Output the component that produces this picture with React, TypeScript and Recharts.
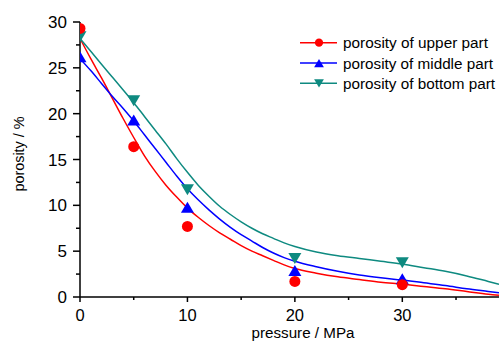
import React from 'react';
import { ComposedChart, Line, Scatter, XAxis, YAxis } from 'recharts';

// fitted curves
const curveX = [0, 1, 2, 3, 4, 5, 6, 7, 8, 9, 10, 11, 12, 13, 14, 15, 16, 17, 18, 19, 20, 22, 24, 26, 28, 30, 32, 34, 36, 38, 39];
const upperCurve = [28.2, 26.0, 23.9, 21.7, 19.5, 17.4, 15.4, 13.7, 12.2, 10.9, 9.7, 8.7, 7.8, 7.0, 6.3, 5.6, 5.0, 4.5, 4.0, 3.5, 3.1, 2.6, 2.2, 1.9, 1.6, 1.4, 1.15, 0.9, 0.6, 0.3, 0.2];
const middleCurve = [26.0, 24.7, 23.3, 21.9, 20.6, 19.2, 17.7, 16.2, 14.7, 13.2, 11.8, 10.6, 9.5, 8.5, 7.6, 6.8, 6.1, 5.4, 4.8, 4.3, 3.9, 3.3, 2.8, 2.4, 2.1, 1.85, 1.55, 1.25, 0.9, 0.6, 0.45];
const bottomCurve = [28.2, 26.8, 25.4, 24.0, 22.6, 21.2, 19.7, 18.2, 16.7, 15.1, 13.6, 12.2, 11.0, 9.9, 9.0, 8.2, 7.5, 6.9, 6.4, 5.9, 5.5, 4.9, 4.5, 4.2, 3.9, 3.6, 3.2, 2.8, 2.3, 1.7, 1.4];

// measured points
const pressures = [0, 5, 10, 20, 30];
const upperPoints = [29.3, 16.4, 7.7, 1.7, 1.35];
const middlePoints = [26.2, 19.3, 9.8, 2.9, 2.0];
const bottomPoints = [28.4, 21.4, 11.7, 4.2, 3.75];

const xTicks = [0, 5, 10, 15, 20, 25, 30, 35];
const xLabeled = [0, 10, 20, 30];
const yTicks = [0, 2.5, 5, 7.5, 10, 12.5, 15, 17.5, 20, 22.5, 25, 27.5, 30];
const yLabeled = [0, 5, 10, 15, 20, 25, 30];

const seriesNames = ['porosity of upper part', 'porosity of middle part', 'porosity of bottom part'];
const legendWidths = [145, 150, 152];
const colors = ['#ff0000', '#0000ff', '#0e8a80'];

const FONT = '"Liberation Sans", Arial, sans-serif';

const mk = (xs: number[], ys: number[]) => xs.map((x, i) => ({ x, y: ys[i] }));
const upperLine = mk(curveX, upperCurve);
const middleLine = mk(curveX, middleCurve);
const bottomLine = mk(curveX, bottomCurve);
const upperData = mk(pressures, upperPoints);
const middleData = mk(pressures, middlePoints);
const bottomData = mk(pressures, bottomPoints);

const Marker = ({ kind, cx, cy, color, s = 1 }: any) => {
  if (cx == null || cy == null) return null;
  if (kind === 0) return <circle cx={cx} cy={cy} r={5.5 * s} fill={color} />;
  const w = 6.5 * s;
  const h = 5.5 * s;
  if (kind === 1)
    return <polygon points={`${cx - w},${cy + h} ${cx + w},${cy + h} ${cx},${cy - h}`} fill={color} />;
  return <polygon points={`${cx - w},${cy - h} ${cx + w},${cy - h} ${cx},${cy + h}`} fill={color} />;
};

const XTick = (props: any) => {
  const { x, y, payload } = props;
  const major = xLabeled.includes(payload.value);
  return (
    <g>
      <line x1={x} x2={x} y1={y} y2={y + (major ? 5 : 3)} stroke="#000" strokeWidth={1.5} />
      {major && (
        <text x={x} y={y + 24} textAnchor="middle" fontSize={16.5} fontFamily={FONT} fill="#000">
          {payload.value}
        </text>
      )}
    </g>
  );
};

const YTick = (props: any) => {
  const { x, y, payload } = props;
  const major = yLabeled.includes(payload.value);
  return (
    <g>
      <line x1={x} x2={x - (major ? 7 : 4)} y1={y} y2={y} stroke="#000" strokeWidth={1.5} />
      {major && (
        <text x={x - 13} y={y + 6} textAnchor="end" fontSize={17} fontFamily={FONT} fill="#000">
          {payload.value}
        </text>
      )}
    </g>
  );
};

export default function App() {
  return (
    <div style={{ position: 'relative', width: 499, height: 342, overflow: 'hidden' }}>
      <style>{`html, body { margin: 0; padding: 0; overflow: hidden; }`}</style>
      <ComposedChart width={499} height={342} margin={{ top: 22, right: 0, bottom: 5, left: 20 }}>
        <XAxis
          type="number"
          dataKey="x"
          domain={[0, 39]}
          ticks={xTicks}
          allowDataOverflow
          height={40}
          tickSize={0}
          tickMargin={0}
          tickLine={false}
          tick={<XTick />}
          axisLine={{ stroke: '#000', strokeWidth: 1.5 }}
          interval={0}
        />
        <YAxis
          type="number"
          dataKey="y"
          domain={[0, 30]}
          ticks={yTicks}
          allowDataOverflow
          width={60}
          tickSize={0}
          tickMargin={0}
          tickLine={false}
          tick={<YTick />}
          axisLine={{ stroke: '#000', strokeWidth: 1.5 }}
          interval={0}
        />
        <Line data={upperLine} dataKey="y" type="monotone" stroke={colors[0]} strokeWidth={1.5} dot={false} isAnimationActive={false} />
        <Line data={middleLine} dataKey="y" type="monotone" stroke={colors[1]} strokeWidth={1.5} dot={false} isAnimationActive={false} />
        <Line data={bottomLine} dataKey="y" type="monotone" stroke={colors[2]} strokeWidth={1.5} dot={false} isAnimationActive={false} />
        <Scatter data={bottomData} dataKey="y" isAnimationActive={false} shape={(p: any) => <Marker kind={2} cx={p.cx} cy={p.cy} color={colors[2]} />} />
        <Scatter data={middleData} dataKey="y" isAnimationActive={false} shape={(p: any) => <Marker kind={1} cx={p.cx} cy={p.cy} color={colors[1]} />} />
        <Scatter data={upperData} dataKey="y" isAnimationActive={false} shape={(p: any) => <Marker kind={0} cx={p.cx} cy={p.cy} color={colors[0]} />} />
      </ComposedChart>
      <svg width={499} height={342} style={{ position: 'absolute', left: 0, top: 0, pointerEvents: 'none' }}>
        <text x={303} y={338} textAnchor="middle" fontSize={15.5} textLength={103} lengthAdjust="spacingAndGlyphs" fontFamily={FONT} fill="#000">
          pressure / MPa
        </text>
        <text
          x={18}
          y={154}
          transform="rotate(-90 18 154)"
          textAnchor="middle"
          dominantBaseline="central"
          fontSize={15.5}
          textLength={75}
          lengthAdjust="spacingAndGlyphs"
          fontFamily={FONT}
          fill="#000"
        >
          porosity / %
        </text>
        {seriesNames.map((name, i) => {
          const cy = 42.7 + i * 20.3;
          return (
            <g key={name}>
              <line x1={300} x2={337} y1={cy} y2={cy} stroke={colors[i]} strokeWidth={1.5} />
              <Marker kind={i} cx={319} cy={cy} color={colors[i]} s={0.75} />
              <text
                x={343}
                y={cy}
                dominantBaseline="central"
                fontSize={15.3}
                textLength={legendWidths[i]}
                lengthAdjust="spacingAndGlyphs"
                fontFamily={FONT}
                fill="#000"
              >
                {name}
              </text>
            </g>
          );
        })}
      </svg>
    </div>
  );
}
